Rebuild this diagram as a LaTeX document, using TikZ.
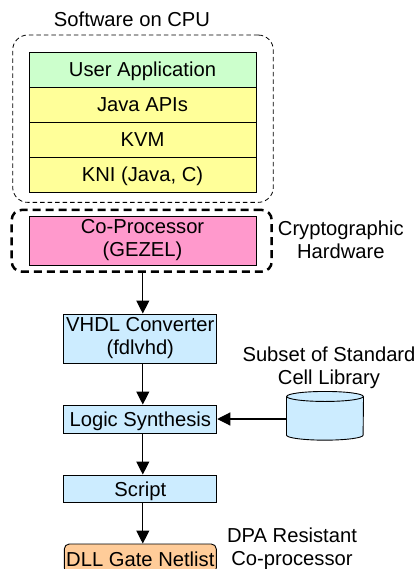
\documentclass[tikz,border=0pt]{standalone}
\usepackage{fontspec}
\setmainfont{Liberation Sans}
\usetikzlibrary{arrows.meta}
\definecolor{cgreen}{HTML}{CCFFCC}
\definecolor{cyellow}{HTML}{FFFF99}
\definecolor{cpink}{HTML}{FF99CC}
\definecolor{cblue}{HTML}{CCECFF}
\definecolor{corange}{HTML}{FFCC99}
\begin{document}
\begin{tikzpicture}[x=1pt,y=-1pt,
  every node/.style={font=\fontsize{20.2}{23}\selectfont, inner sep=0pt},
  layer/.style={draw, line width=0.9pt, minimum width=227pt, minimum height=35pt, text height=15pt, text depth=0pt},
  flowbox/.style={draw, line width=0.9pt, fill=cblue, minimum width=153pt},
  onetext/.style={text height=15pt, text depth=0pt},
  arr/.style={line width=1.1pt, -{Triangle[length=13pt,width=13pt]}},
  lbl/.style={align=center, anchor=north},
  thindash/.style={draw, line width=0.8pt, dash pattern=on 4.5pt off 3pt, rounded corners=15pt},
  thickdash/.style={draw, line width=2.5pt, dash pattern=on 8pt off 5pt, rounded corners=10pt},
]
\clip (0,0) rectangle (416,569);
\fill[white] (0,0) rectangle (416,569);
\coordinate (col) at (142.8,0);
% software on CPU
\node[thindash, minimum width=260.6pt, minimum height=167.3pt] (sw) at (143,118.7) {};
\node[anchor=base] (swl) at (132,26.7) {Software on CPU};
\node[layer, fill=cgreen] (ua) at (142.5,69.5) {User Application};
\node[layer, fill=cyellow] (japi) at (142.5,104.5) {Java APIs};
\node[layer, fill=cyellow] (kvm) at (142.5,139.5) {KVM};
\node[layer, fill=cyellow] (kni) at (142.5,174.5) {KNI (Java, C)};
% hardware
\node[thickdash, minimum width=260pt, minimum height=61.7pt] (hw) at (141.7,240.8) {};
\node[draw, line width=0.9pt, fill=cpink, minimum width=227pt, minimum height=49pt, align=center] (cp) at (142.5,240.5) {Co-Processor\\(GEZEL)};
\node[lbl] (hwl) at (340.8,221) {Cryptographic\\Hardware};
% flow
\node[flowbox, minimum height=49pt, align=center] (vhdl) at (140.3,338.5) {VHDL Converter\\(fdlvhd)};
\node[flowbox, onetext, minimum height=28pt] (ls) at (140.3,419) {Logic Synthesis};
\node[flowbox, onetext, minimum height=27pt] (scr) at (140.3,488.5) {Script};
\node[draw, line width=0.9pt, fill=corange, rounded corners=5pt, minimum width=152pt, minimum height=29pt, onetext] (dll) at (140.3,558.5) {DLL Gate Netlist};
\node[lbl] (libl) at (329,346.5) {Subset of Standard\\Cell Library};
\node[lbl] (dpa) at (292,527.8) {DPA Resistant\\Co-processor};
% cylinder
\node[minimum width=76.6pt, minimum height=48.3pt] (lib) at (325,415.8) {};
\fill[cblue] ([yshift=-5pt]lib.north west) -- ([yshift=5pt]lib.south west)
  arc[start angle=180, end angle=360, x radius=38.3pt, y radius=5pt]
  -- ([yshift=-5pt]lib.north east)
  arc[start angle=0, end angle=180, x radius=38.3pt, y radius=5pt] -- cycle;
\draw[line width=0.9pt] ([yshift=-5pt]lib.north west) -- ([yshift=5pt]lib.south west)
  arc[start angle=180, end angle=360, x radius=38.3pt, y radius=5pt]
  -- ([yshift=-5pt]lib.north east);
\draw[line width=0.9pt] ([yshift=-5pt]lib.north) ellipse [x radius=38.3pt, y radius=5pt];
% arrows
\draw[arr] (hw.south -| col) -- (vhdl.north -| col);
\draw[arr] (vhdl.south -| col) -- (ls.north -| col);
\draw[arr] (ls.south -| col) -- (scr.north -| col);
\draw[arr] (scr.south -| col) -- (dll.north -| col);
\draw[arr] (ls.east -| lib.west) -- (ls.east);
\end{tikzpicture}
\end{document}
